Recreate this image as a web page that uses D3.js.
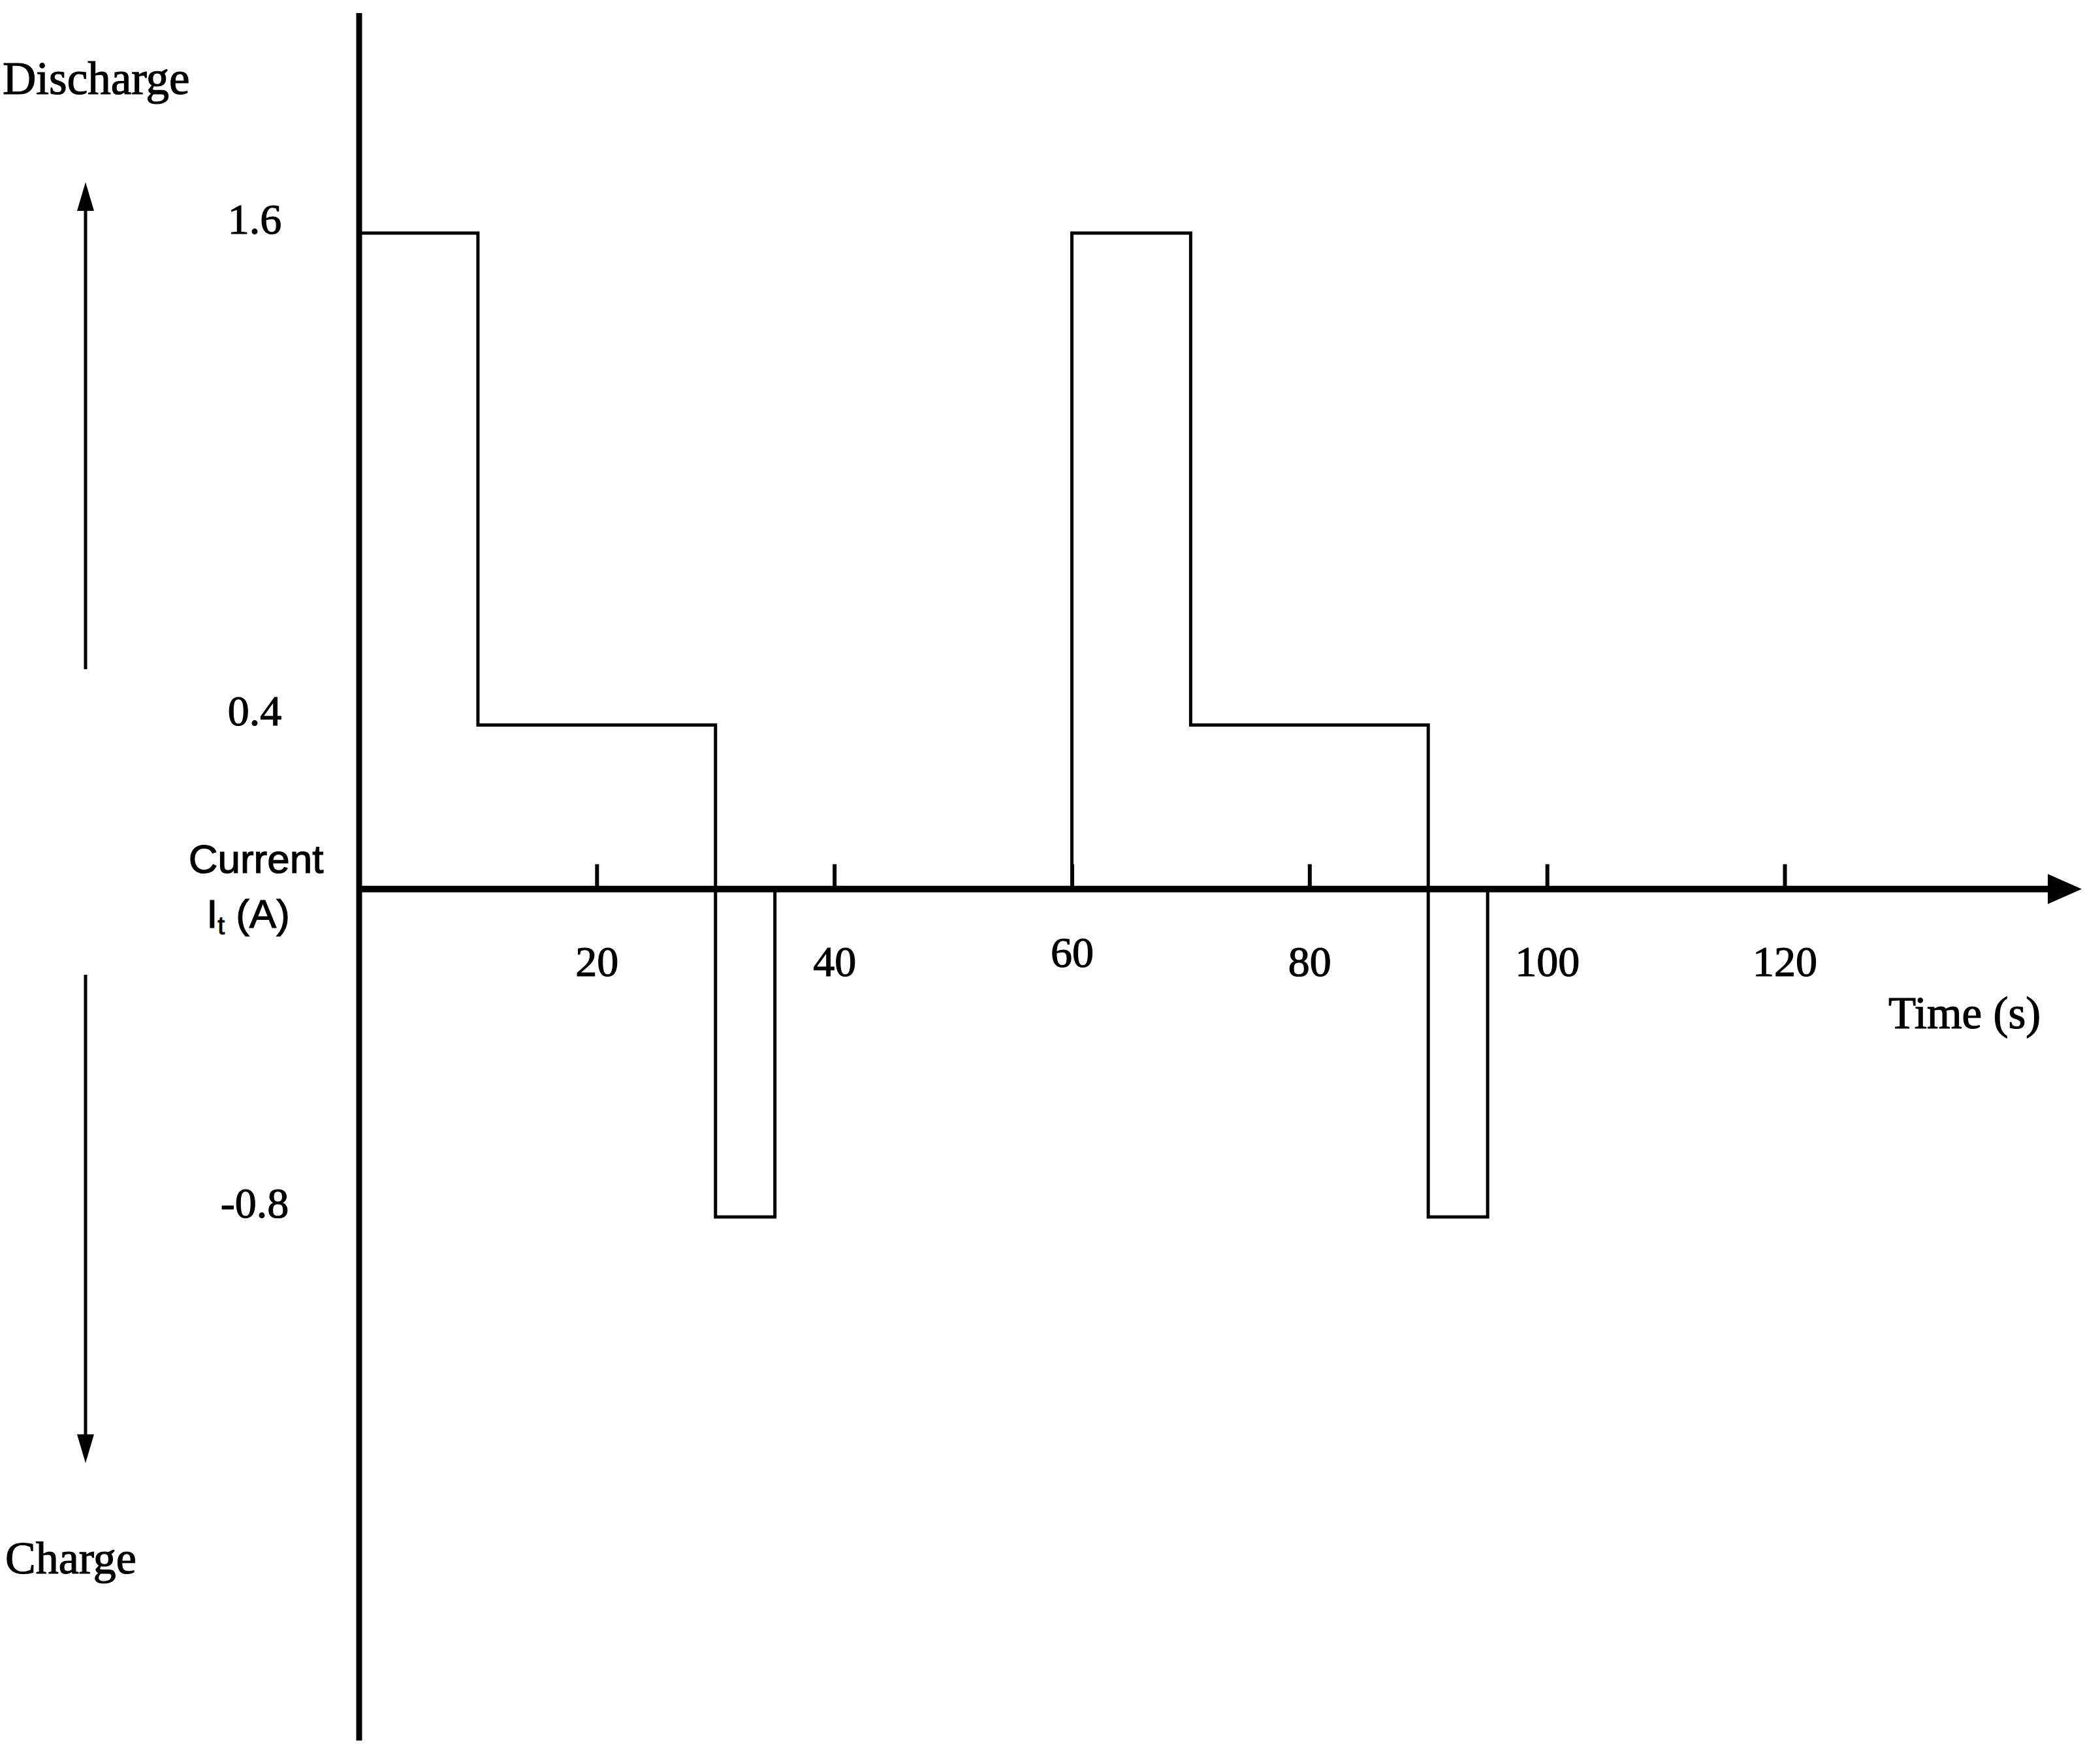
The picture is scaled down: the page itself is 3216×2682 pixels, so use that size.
<!DOCTYPE html>
<html>
<head>
<meta charset="utf-8">
<script src="https://cdn.jsdelivr.net/npm/d3@7"></script>
<style>
  html, body { margin: 0; padding: 0; background: #fff; }
  text { fill: #000; stroke: #000; stroke-width: 1.2px; }
</style>
</head>
<body>
<div id="plot"></div>
<script>
// step profile of the current pulse (value holds until next time)
var stepTimes = [0, 10, 30, 35, 60, 70, 90, 95];
var stepCurrent = [1.6, 0.4, -0.8, 0, 1.6, 0.4, -0.8, 0];
var xTicks = [20, 40, 60, 80, 100, 120];
var yTicks = [1.6, 0.4, -0.8];

var width = 3216, height = 2682;
var serif = '"Liberation Serif", "Times New Roman", serif';
var sans = '"Liberation Sans", Arial, sans-serif';

var svg = d3.select('#plot')
    .append('svg')
    .attr('width', width)
    .attr('height', height)
    .style('background', '#fff');

var x = d3.scaleLinear().domain([0, 120]).range([550, 2733]);
var y = d3.scaleLinear().domain([-0.8, 1.6]).range([1864, 357]);

var defs = svg.append('defs');
defs.append('marker')
    .attr('id', 'head-x')
    .attr('markerUnits', 'userSpaceOnUse')
    .attr('markerWidth', 52).attr('markerHeight', 46)
    .attr('refX', 2).attr('refY', 23)
    .attr('orient', 'auto')
    .append('path')
    .attr('d', 'M0,0 L52,23 L0,46 Z')
    .attr('fill', '#000');
defs.append('marker')
    .attr('id', 'head-side')
    .attr('markerUnits', 'userSpaceOnUse')
    .attr('markerWidth', 44).attr('markerHeight', 26)
    .attr('refX', 2).attr('refY', 13)
    .attr('orient', 'auto')
    .append('path')
    .attr('d', 'M0,0 L44,13 L0,26 Z')
    .attr('fill', '#000');

// vertical axis
svg.append('line')
    .attr('x1', x(0)).attr('x2', x(0))
    .attr('y1', 20).attr('y2', 2666)
    .attr('stroke', '#000')
    .attr('stroke-width', 9);

// horizontal axis with arrow
svg.append('line')
    .attr('x1', x(0)).attr('x2', 3138)
    .attr('y1', y(0)).attr('y2', y(0))
    .attr('stroke', '#000')
    .attr('stroke-width', 10)
    .attr('marker-end', 'url(#head-x)');

var xAxis = svg.append('g')
    .attr('transform', 'translate(0,' + y(0) + ')')
    .call(d3.axisBottom(x)
        .tickValues(xTicks)
        .tickSizeInner(-38)
        .tickSizeOuter(0)
        .tickPadding(86));
xAxis.select('.domain').remove();
xAxis.selectAll('.tick line')
    .attr('stroke', '#000')
    .attr('stroke-width', 6);
xAxis.selectAll('.tick text')
    .attr('font-family', serif)
    .attr('font-size', 66)
    .filter(function (d) { return d === 60; })
    .attr('y', 72);

var yAxis = svg.append('g')
    .attr('transform', 'translate(' + x(0) + ',0)')
    .call(d3.axisLeft(y)
        .tickValues(yTicks)
        .tickSize(0)
        .tickFormat(function (d) { return d.toFixed(1); }));
yAxis.select('.domain').remove();
yAxis.selectAll('.tick text')
    .attr('x', -160)
    .attr('dy', 0)
    .attr('text-anchor', 'middle')
    .attr('font-family', serif)
    .attr('font-size', 66);

// current waveform
var pts = stepTimes.map(function (t, i) { return [t, stepCurrent[i]]; });
var line = d3.line()
    .x(function (d) { return x(d[0]); })
    .y(function (d) { return y(d[1]); })
    .curve(d3.curveStepAfter);

svg.append('path')
    .attr('d', line(pts))
    .attr('fill', 'none')
    .attr('stroke', '#000')
    .attr('stroke-width', 5)
    .attr('stroke-linejoin', 'miter');

// side arrows
svg.append('line')
    .attr('x1', 131).attr('x2', 131)
    .attr('y1', 1025).attr('y2', 321)
    .attr('stroke', '#000').attr('stroke-width', 5)
    .attr('marker-end', 'url(#head-side)');
svg.append('line')
    .attr('x1', 131).attr('x2', 131)
    .attr('y1', 1493).attr('y2', 2199)
    .attr('stroke', '#000').attr('stroke-width', 5)
    .attr('marker-end', 'url(#head-side)');

// labels
svg.append('text')
    .attr('x', 4).attr('y', 144)
    .attr('font-family', serif).attr('font-size', 71)
    .text('Discharge');
svg.append('text')
    .attr('x', 8).attr('y', 2410)
    .attr('font-family', serif).attr('font-size', 70)
    .text('Charge');
svg.append('text')
    .attr('x', 392).attr('y', 1337)
    .attr('text-anchor', 'middle')
    .attr('font-family', sans).attr('font-size', 62)
    .text('Current');
var it = svg.append('text')
    .attr('x', 380).attr('y', 1421)
    .attr('text-anchor', 'middle')
    .attr('font-family', sans).attr('font-size', 62);
it.append('tspan').text('I');
it.append('tspan').attr('font-size', 38).attr('dy', 10).text('t');
it.append('tspan').attr('dy', -10).text(' (A)');
svg.append('text')
    .attr('x', 2892).attr('y', 1575)
    .attr('font-family', serif).attr('font-size', 69)
    .text('Time (s)');
</script>
</body>
</html>
